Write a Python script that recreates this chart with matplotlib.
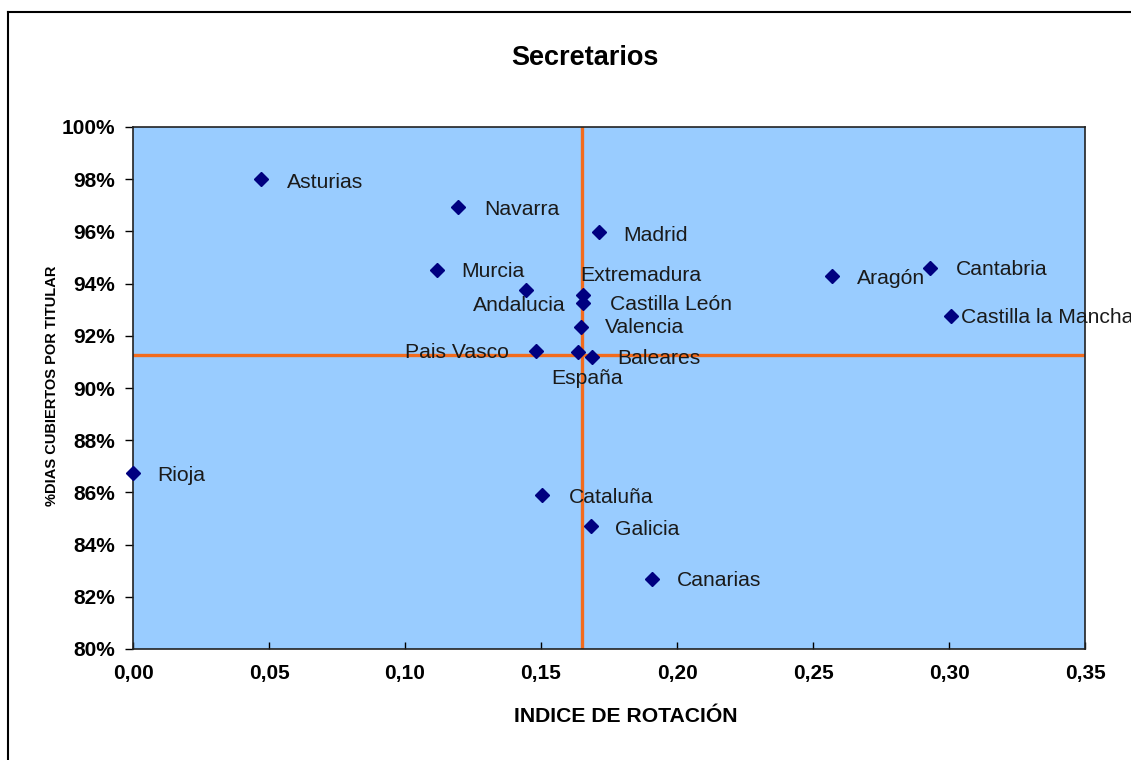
import matplotlib
matplotlib.use("Agg")
import matplotlib.pyplot as plt
from matplotlib.ticker import FuncFormatter
from matplotlib.lines import Line2D

plt.rcParams['font.family'] = ['Liberation Sans', 'DejaVu Sans']

# ---- data ----
regions = ["Asturias", "Navarra", "Madrid", "Murcia", "Extremadura", "Castilla León",
           "Andalucia", "Valencia", "Pais Vasco", "España", "Baleares", "Aragón",
           "Cantabria", "Castilla la Mancha", "Rioja", "Cataluña", "Galicia", "Canarias"]
rotacion = [0.047, 0.1195, 0.1713, 0.1118, 0.1654, 0.1654,
            0.1445, 0.1647, 0.148, 0.1636, 0.1687, 0.257,
            0.293, 0.3007, 0.0, 0.1504, 0.1684, 0.1908]
dias_cubiertos = [0.980, 0.9693, 0.9598, 0.9452, 0.9356, 0.9325,
                  0.9375, 0.9234, 0.9142, 0.9138, 0.9119, 0.9429,
                  0.9460, 0.9276, 0.8674, 0.8590, 0.8471, 0.8268]
mean_rotacion = 0.1651
mean_dias = 0.9125

x_ticks = [0.00, 0.05, 0.10, 0.15, 0.20, 0.25, 0.30, 0.35]
y_ticks = [0.80, 0.82, 0.84, 0.86, 0.88, 0.90, 0.92, 0.94, 0.96, 0.98, 1.00]

title = "Secretarios"
x_label = "INDICE DE ROTACIÓN"
y_label = "%DIAS CUBIERTOS POR TITULAR"

# label offsets in pixels (dx, dy up), and horizontal alignment
label_layout = {
    "Asturias": (26, -3, "left"),
    "Navarra": (26, -2, "left"),
    "Madrid": (24, -4, "left"),
    "Murcia": (24, -1, "left"),
    "Extremadura": (-3, 20, "left"),
    "Castilla León": (27, -1, "left"),
    "Andalucia": (-53, -15, "left"),
    "Valencia": (24, -1, "left"),
    "Pais Vasco": (-27, -2, "right"),
    "España": (9, -27, "center"),
    "Baleares": (25, -2, "left"),
    "Aragón": (25, -2, "left"),
    "Cantabria": (26, -2, "left"),
    "Castilla la Mancha": (10, -2, "left"),
    "Rioja": (24, -2, "left"),
    "Cataluña": (27, -2, "left"),
    "Galicia": (24, -3, "left"),
    "Canarias": (25, -1, "left"),
}

W, H = 1131, 760
fig = plt.figure(figsize=(W / 100, H / 100), dpi=100)
fig.patch.set_facecolor("white")

L, R, T, B = 133, 1085, 127, 649
ax = fig.add_axes([L / W, 1 - B / H, (R - L) / W, (B - T) / H])
ax.set_facecolor("#99CCFF")

ax.set_xlim(x_ticks[0], x_ticks[-1])
ax.set_ylim(y_ticks[0], y_ticks[-1])
ax.set_xticks(x_ticks)
ax.set_yticks(y_ticks)
ax.xaxis.set_major_formatter(FuncFormatter(lambda v, p: f"{v:.2f}".replace(".", ",")))
ax.yaxis.set_major_formatter(FuncFormatter(lambda v, p: f"{v*100:.0f}%"))

ax.tick_params(axis="x", direction="in", length=5, width=1, pad=11, labelsize=15)
ax.tick_params(axis="y", direction="out", length=6, width=1, pad=7, labelsize=15)
for lab in ax.get_xticklabels() + ax.get_yticklabels():
    lab.set_fontweight("bold")

for sp in ax.spines.values():
    sp.set_color("#222222")
    sp.set_linewidth(1.2)

ax.axvline(mean_rotacion, color="#F26B1D", lw=2.4, zorder=2)
ax.axhline(mean_dias, color="#F26B1D", lw=2.4, zorder=2)

ax.plot(rotacion, dias_cubiertos, linestyle="none", marker="D", markersize=7.2,
        color="#000080", zorder=4, clip_on=False)

for name, xv, yv in zip(regions, rotacion, dias_cubiertos):
    dx, dy, ha = label_layout[name]
    ax.annotate(name, (xv, yv), xytext=(dx, dy), textcoords="offset pixels",
                ha=ha, va="center", fontsize=15.2, color="#1a1a1a",
                annotation_clip=False, zorder=5)

fig.text(585 / W, 1 - 58 / H, title, ha="center", va="center",
         fontsize=19.5, fontweight="bold")
fig.text(626 / W, 1 - 716 / H, x_label, ha="center", va="center",
         fontsize=15.2, fontweight="bold")
fig.text(52 / W, 1 - 386 / H, y_label, ha="center", va="center",
         fontsize=10.5, fontweight="bold", rotation=90)

# outer chart-area border (extends past image edge)
fig.add_artist(Line2D([8 / W, 8 / W], [0, 1 - 12 / H], transform=fig.transFigure,
                      color="black", lw=1.5))
fig.add_artist(Line2D([8 / W, 1], [1 - 12 / H, 1 - 12 / H], transform=fig.transFigure,
                      color="black", lw=1.5))

fig.savefig("out.png", dpi=100)
